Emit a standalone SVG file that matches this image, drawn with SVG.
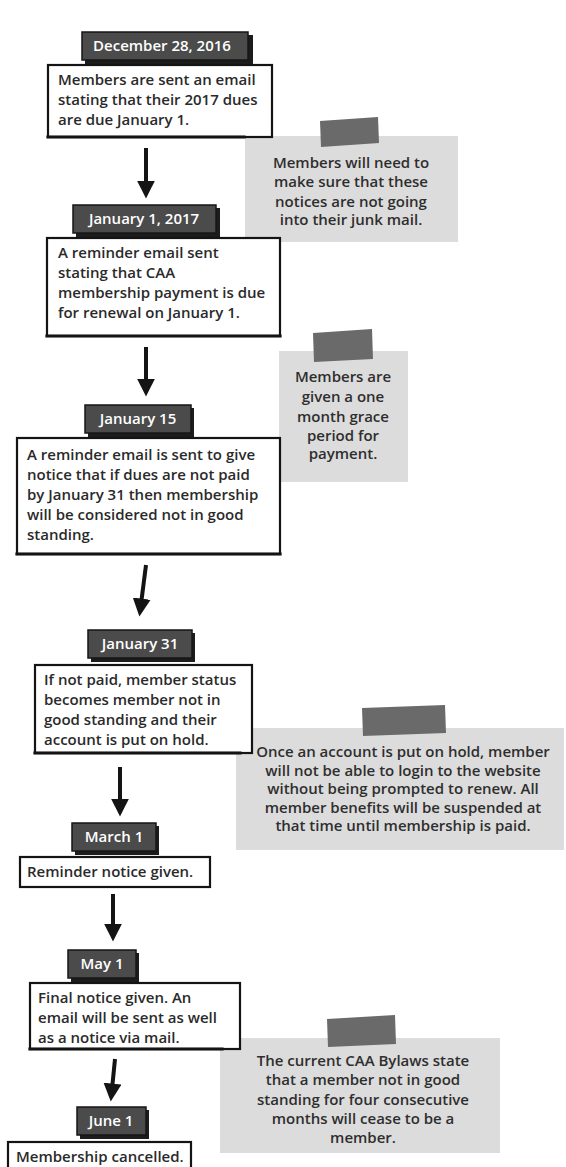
<svg xmlns="http://www.w3.org/2000/svg" width="566" height="1167" viewBox="0 0 566 1167">
  <style>
    .box { fill: #ffffff; stroke: #141414; stroke-width: 2.2; }
    .edge { stroke: #141414; stroke-width: 3.2; stroke-linecap: square; }
    .tab { fill: #4b4b4b; stroke: #161616; stroke-width: 1.5; }
    .tabshadow { fill: #1c1c1c; }
    .tabtxt { font-family: "Open Sans", "Liberation Sans", sans-serif; font-size: 15px; font-weight: 600; fill: #ffffff; text-anchor: middle; }
    .txt { font-family: "Open Sans", "Liberation Sans", sans-serif; font-size: 15px; font-weight: 600; fill: #2a2a2a; }
    .note { fill: #dcdcdc; }
    .tape { fill: #6a6a6a; }
    .ntxt { font-family: "Open Sans", "Liberation Sans", sans-serif; font-size: 15px; font-weight: 600; fill: #2e2e2e; text-anchor: middle; }
    .arrow { stroke: #141414; stroke-width: 4; fill: none; marker-end: url(#head); }
  </style>
  <defs>
    <marker id="head" viewBox="0 0 10 10" refX="3" refY="5" markerWidth="4.5" markerHeight="4.5" orient="auto" markerUnits="strokeWidth">
      <path d="M0,0 L10,5 L0,10 Z" fill="#141414"/>
    </marker>
  </defs>
  <rect width="566" height="1167" fill="#ffffff"/>

  <!-- side notes -->
  <g id="note-junk">
    <rect class="note" x="245" y="136" width="213" height="106"/>
    <polygon class="tape" points="320,121 378,117 379,143 321,147"/>
    <text class="ntxt" x="351" y="168">Members will need to</text>
    <text class="ntxt" x="351" y="187">make sure that these</text>
    <text class="ntxt" x="351" y="207">notices are not going</text>
    <text class="ntxt" x="351" y="225">into their junk mail.</text>
  </g>
  <g id="note-grace">
    <rect class="note" x="279" y="351" width="129" height="131"/>
    <polygon class="tape" points="313,333 372,329 373,359 314,362"/>
    <text class="ntxt" x="343" y="382">Members are</text>
    <text class="ntxt" x="343" y="402">given a one</text>
    <text class="ntxt" x="343" y="422">month grace</text>
    <text class="ntxt" x="343" y="441">period for</text>
    <text class="ntxt" x="343" y="459">payment.</text>
  </g>
  <g id="note-hold">
    <rect class="note" x="236" y="728" width="328" height="122"/>
    <polygon class="tape" points="362,708 445,705 446,733 363,736"/>
    <text class="ntxt" x="403" y="757">Once an account is put on hold, member</text>
    <text class="ntxt" x="403" y="776">will not be able to login to the website</text>
    <text class="ntxt" x="403" y="794">without being prompted to renew. All</text>
    <text class="ntxt" x="403" y="813">member benefits will be suspended at</text>
    <text class="ntxt" x="403" y="831">that time until membership is paid.</text>
  </g>
  <g id="note-bylaws">
    <rect class="note" x="220" y="1038" width="280" height="115"/>
    <polygon class="tape" points="327,1019 395,1015 396,1044 328,1047"/>
    <text class="ntxt" x="363" y="1066">The current CAA Bylaws state</text>
    <text class="ntxt" x="363" y="1085">that a member not in good</text>
    <text class="ntxt" x="363" y="1105">standing for four consecutive</text>
    <text class="ntxt" x="363" y="1124">months will cease to be a</text>
    <text class="ntxt" x="363" y="1143">member.</text>
  </g>

  <!-- connectors -->
  <g id="connectors">
    <line class="arrow" x1="146" y1="148" x2="146" y2="186"/>
    <line class="arrow" x1="146" y1="347" x2="146" y2="384"/>
    <line class="arrow" x1="146" y1="565" x2="141" y2="604"/>
    <line class="arrow" x1="120" y1="767" x2="120" y2="804"/>
    <line class="arrow" x1="113" y1="894" x2="113" y2="929"/>
    <line class="arrow" x1="115" y1="1059" x2="112" y2="1089"/>
  </g>

  <!-- timeline steps -->
  <g id="step-dec28">
    <rect class="tabshadow" x="85" y="35" width="168" height="29"/>
    <rect class="tab" x="82" y="32" width="166" height="28"/>
    <text class="tabtxt" x="162" y="51">December 28, 2016</text>
    <rect class="box" x="48" y="65" width="224" height="72"/>
    <line class="edge" x1="48" y1="137" x2="244" y2="137"/>
    <text class="txt" x="58" y="85">Members are sent an email</text>
    <text class="txt" x="58" y="105">stating that their 2017 dues</text>
    <text class="txt" x="58" y="125">are due January 1.</text>
  </g>
  <g id="step-jan1">
    <rect class="tabshadow" x="76" y="208" width="144" height="29"/>
    <rect class="tab" x="73" y="205" width="143" height="28"/>
    <text class="tabtxt" x="144" y="224">January 1, 2017</text>
    <rect class="box" x="47" y="238" width="233" height="98"/>
    <line class="edge" x1="47" y1="336" x2="280" y2="336"/>
    <text class="txt" x="58" y="258">A reminder email sent</text>
    <text class="txt" x="58" y="278">stating that CAA</text>
    <text class="txt" x="58" y="298">membership payment is due</text>
    <text class="txt" x="58" y="318">for renewal on January 1.</text>
  </g>
  <g id="step-jan15">
    <rect class="tabshadow" x="88" y="408" width="106" height="29"/>
    <rect class="tab" x="85" y="405" width="106" height="28"/>
    <text class="tabtxt" x="138" y="424">January 15</text>
    <rect class="box" x="17" y="438" width="263" height="116"/>
    <line class="edge" x1="17" y1="554" x2="280" y2="554"/>
    <text class="txt" x="27" y="460">A reminder email is sent to give</text>
    <text class="txt" x="27" y="480">notice that if dues are not paid</text>
    <text class="txt" x="27" y="500">by January 31 then membership</text>
    <text class="txt" x="27" y="520">will be considered not in good</text>
    <text class="txt" x="27" y="540">standing.</text>
  </g>
  <g id="step-jan31">
    <rect class="tabshadow" x="91" y="633" width="104" height="29"/>
    <rect class="tab" x="88" y="630" width="104" height="28"/>
    <text class="tabtxt" x="140" y="649">January 31</text>
    <rect class="box" x="35" y="665" width="217" height="88"/>
    <line class="edge" x1="35" y1="753" x2="240" y2="753"/>
    <text class="txt" x="44" y="685">If not paid, member status</text>
    <text class="txt" x="44" y="705">becomes member not in</text>
    <text class="txt" x="44" y="725">good standing and their</text>
    <text class="txt" x="44" y="745">account is put on hold.</text>
  </g>
  <g id="step-mar1">
    <rect class="tabshadow" x="75" y="826" width="84" height="29"/>
    <rect class="tab" x="72" y="823" width="84" height="28"/>
    <text class="tabtxt" x="114" y="842">March 1</text>
    <rect class="box" x="20" y="857" width="190" height="30"/>
    <text class="txt" x="27" y="877">Reminder notice given.</text>
  </g>
  <g id="step-may1">
    <rect class="tabshadow" x="71" y="953" width="68" height="29"/>
    <rect class="tab" x="68" y="950" width="68" height="28"/>
    <text class="tabtxt" x="102" y="969">May 1</text>
    <rect class="box" x="30" y="983" width="210" height="66"/>
    <line class="edge" x1="30" y1="1049" x2="222" y2="1049"/>
    <text class="txt" x="38" y="1003">Final notice given. An</text>
    <text class="txt" x="38" y="1023">email will be sent as well</text>
    <text class="txt" x="38" y="1043">as a notice via mail.</text>
  </g>
  <g id="step-jun1">
    <rect class="tabshadow" x="80" y="1110" width="69" height="29"/>
    <rect class="tab" x="77" y="1107" width="69" height="28"/>
    <text class="tabtxt" x="111" y="1126">June 1</text>
    <rect class="box" x="8" y="1142" width="183" height="30"/>
    <text class="txt" x="16" y="1162">Membership cancelled.</text>
  </g>
</svg>
